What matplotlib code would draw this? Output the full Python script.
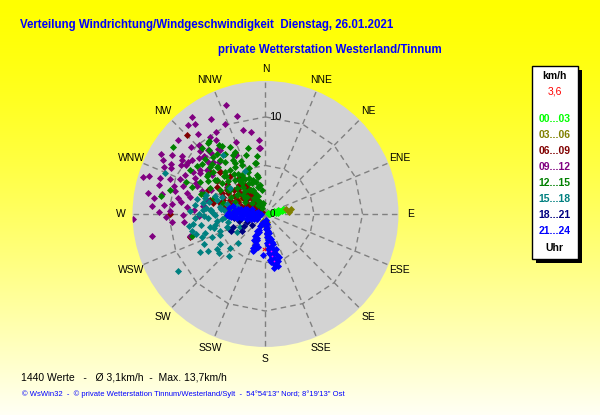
import numpy as np
import matplotlib.pyplot as plt
from matplotlib.patches import Rectangle

# Windrose-Daten (Richtung in Grad, Geschwindigkeit in km/h), je 3-Stunden-Block
dir_00_03 = [80, 78, 82, 76, 80, 84, 77, 81, 75, 79, 83, 73, 86, 70, 90, 78]
spd_00_03 = [0.3, 0.6, 0.8, 1.0, 1.2, 1.3, 1.5, 1.7, 1.9, 2.0, 1.1, 1.4, 0.5, 0.9, 0.4, 1.8]

dir_03_06 = [79, 77, 171, 176, 178, 196, 175, 315, 300, 325, 84]
spd_03_06 = [2.7, 2.2, 0.8, 2.0, 1.3, 0.8, 2.6, 2.5, 3.0, 3.5, 2.4]

dir_06_09 = [315, 333, 313, 317, 323, 325, 328, 319, 316, 317, 300, 296, 292, 283, 282,
             292, 299, 293, 277, 280, 281, 253, 270, 309, 315, 307, 330, 284, 302, 302,
             296, 307, 313, 333, 309, 312, 323, 283, 276, 290, 316, 286, 294, 288, 293,
             305, 320, 310, 298, 288, 326, 318, 300,
             304, 295, 290, 312, 318, 322, 308, 300, 286, 275, 312, 326, 304, 296, 284, 278]
spd_06_09 = [11.5, 7.0, 6.4, 5.3, 4.6, 3.6, 2.7, 1.9, 1.3, 0.8, 2.2, 3.3, 3.9, 4.8, 5.5,
             4.7, 5.7, 6.4, 3.2, 2.3, 1.3, 8.1, 9.8, 3.4, 2.5, 4.1, 1.5, 5.9, 0.45, 4.7,
             1.75, 7.2, 6.4, 6.8, 3.1, 2.4, 1.8, 3.2, 3.8, 2.2, 1.1, 1.5, 3.1, 4.6, 0.6,
             2.8, 3.0, 1.6, 1.2, 2.7, 2.2, 4.0, 3.7,
             1.8, 2.0, 3.4, 3.8, 3.0, 2.6, 5.0, 4.4, 3.9, 2.6, 0.9, 3.2, 6.0, 5.0, 2.0, 4.3]

dir_09_12 = [323, 344, 319, 336, 345, 329, 324, 316, 355, 355, 298, 298, 303, 314, 302,
             325, 287, 289, 285, 287, 281, 274, 276, 272, 268, 265, 268, 259, 269, 283,
             289, 292, 304, 313, 318, 315, 297, 283, 277, 273, 305, 275, 278, 304, 333,
             254, 316, 324, 313, 318, 302, 294, 294, 277, 268, 354, 307,
             310, 305, 320, 330, 300, 292, 296, 285, 310, 318, 326, 338, 280, 271, 264,
             306, 290, 312, 300, 280, 275, 322, 340, 350,
             295, 300, 290, 284, 306, 312, 296, 288, 302, 278]
spd_09_12 = [12.5, 10.5, 12.1, 10.2, 9.0, 9.8, 9.8, 9.7, 7.7, 6.8, 11.0, 11.9, 10.3, 9.4, 9.6,
             8.1, 13.2, 11.5, 11.4, 9.9, 10.9, 11.7, 9.7, 9.8, 10.3, 9.7, 13.7, 11.9, 8.5, 8.0,
             9.0, 7.6, 8.1, 8.7, 8.8, 7.6, 8.1, 6.2, 6.3, 7.4, 4.9, 8.1, 8.8, 9.6, 6.8,
             8.1, 9.9, 8.3, 8.6, 8.4, 7.9, 7.8, 6.1, 6.5, 6.9, 6.8, 7.6,
             9.0, 10.5, 10.8, 11.3, 8.6, 9.5, 10.8, 8.4, 11.8, 7.2, 9.2, 8.0, 9.2, 11.0, 8.4,
             6.8, 7.0, 10.3, 12.4, 12.3, 10.5, 11.8, 11.9, 8.6,
             11.5, 10.0, 10.5, 9.6, 9.4, 8.0, 9.2, 12.6, 11.4, 11.6]

dir_12_15 = [306, 321, 316, 319, 327, 320, 322, 329, 321, 327, 336, 335, 349, 349, 350,
             322, 321, 333, 309, 305, 312, 303, 305, 284, 280, 290, 296, 288, 298, 304,
             304, 313, 328, 253, 334, 321, 329, 336, 311, 295, 322, 326, 331, 329, 326,
             330, 331, 340, 347, 345, 333, 351, 336, 330, 322, 318, 314, 305, 304, 305,
             308, 312, 313, 315, 303, 307, 307, 308, 326, 287, 287, 284, 292, 349, 350,
             338, 334,
             335, 340, 342, 318, 324, 312, 316, 310, 300, 296, 300, 318, 338, 344, 326,
             317, 300, 292, 310, 332, 345, 352, 341, 322, 314, 306, 325, 328]
spd_12_15 = [11.8, 9.4, 9.4, 8.8, 8.3, 7.3, 6.8, 6.5, 5.8, 5.8, 4.8, 4.1, 5.3, 3.9, 3.0,
             4.5, 3.6, 2.8, 6.9, 6.1, 5.8, 7.2, 8.6, 10.1, 10.9, 8.1, 7.5, 6.7, 5.3, 4.4,
             3.5, 2.6, 1.7, 7.9, 7.1, 7.9, 4.7, 3.5, 5.1, 6.3, 9.5, 7.4, 6.9, 6.1, 5.0,
             4.2, 3.6, 3.7, 4.1, 2.9, 2.4, 2.5, 1.4, 2.9, 4.0, 4.7, 5.6, 5.5, 6.3, 7.2,
             8.3, 8.4, 7.6, 6.9, 4.6, 3.5, 2.7, 1.8, 0.7, 6.9, 5.5, 4.5, 3.4, 5.4, 1.2,
             4.7, 5.6,
             6.0, 5.0, 6.4, 3.2, 2.0, 4.0, 6.0, 7.5, 6.8, 4.0, 2.4, 1.2, 2.0, 3.4, 8.6,
             8.0, 9.0, 8.8, 3.0, 7.8, 7.0, 6.0, 1.0, 5.2, 7.0, 4.8, 3.0, 4.4]

dir_15_18 = [292, 261, 257, 260, 257, 252, 247, 249, 252, 237, 226, 221, 230, 237, 240,
             238, 243, 252, 223, 254, 237, 280, 274, 286, 279, 285, 283, 271, 264, 271,
             278, 282, 288, 292, 258, 267, 274, 277, 285, 274, 277, 269, 266, 266, 334,
             324, 306,
             262, 268, 255, 250, 245, 262, 270, 275, 280, 266, 258, 248, 290, 286, 276,
             272, 244, 234, 262, 282]
spd_15_18 = [11.2, 8.0, 7.8, 6.7, 5.9, 6.5, 6.0, 5.0, 4.2, 5.6, 5.1, 5.8, 6.3, 7.0, 7.8,
             3.5, 2.9, 2.0, 4.1, 7.4, 10.8, 6.5, 5.7, 5.2, 4.7, 4.1, 3.4, 5.4, 4.5, 3.6,
             2.8, 7.2, 6.4, 4.8, 5.3, 7.3, 6.4, 7.3, 6.4, 5.6, 4.6, 5.2, 4.2, 5.9, 4.9,
             7.5, 4.5,
             5.0, 6.3, 5.5, 7.0, 5.2, 7.5, 6.8, 4.3, 3.8, 3.3, 3.9, 4.0, 5.5, 3.0, 6.2,
             7.8, 7.0, 6.2, 2.8, 5.9]

dir_18_21 = [248, 248, 255, 262, 240, 230, 265, 275, 233, 244]
spd_18_21 = [2.1, 3.6, 2.8, 3.3, 2.5, 1.8, 1.8, 3.0, 3.0, 3.9]

dir_21_24 = [268, 270, 272, 269, 274, 271, 276, 270, 278, 273, 280, 268, 285, 275, 265,
             263, 260, 255, 250, 245, 240, 266, 262, 258, 277, 282, 286, 290, 284, 279,
             267, 264, 271, 273, 268, 262, 257, 252, 247, 280, 283, 276, 270, 260, 272,
             178, 176, 175, 174, 173, 175, 172, 174, 171, 173, 170, 172, 169, 171, 168,
             170, 169, 171, 176, 177, 175, 174, 166, 167, 178, 180, 182, 176, 173, 165,
             172, 170, 168, 167, 165, 166, 173, 175, 177, 164, 168, 163, 170,
             202, 203, 201, 202, 200, 201, 199, 200, 197, 206, 205, 198, 183, 193,
             204, 199, 203, 197, 196, 199]
spd_21_24 = [4.0, 3.7, 3.4, 3.1, 2.9, 2.6, 2.3, 2.0, 1.8, 1.5, 1.3, 1.0, 0.8, 0.5, 3.6,
             3.0, 2.5, 2.0, 1.6, 1.3, 1.0, 2.2, 1.7, 1.2, 3.2, 2.6, 2.0, 1.5, 3.5, 3.8,
             3.8, 3.3, 3.0, 2.3, 1.4, 2.6, 1.8, 1.3, 1.0, 2.9, 2.2, 1.0, 0.8, 0.6, 3.9,
             0.6, 0.9, 1.2, 1.5, 1.8, 2.1, 2.4, 2.7, 3.0, 3.3, 3.6, 3.9, 4.2, 4.5, 4.8,
             5.1, 5.4, 5.6, 2.0, 3.0, 4.0, 4.8, 3.2, 2.6, 1.6, 1.0, 0.7, 3.6, 5.0, 4.4,
             1.0, 2.0, 3.0, 4.0, 5.0, 5.5, 4.2, 3.2, 2.4, 3.8, 5.2, 4.6, 4.6,
             1.0, 1.4, 1.8, 2.2, 2.6, 3.0, 3.4, 3.7, 3.9, 1.9, 2.5, 2.8, 4.2, 3.5,
             1.2, 2.0, 2.9, 3.2, 3.6, 4.0]

# letzte Werte (kleine Punkte) und aktueller Wert
last_dir = [174, 172, 171, 170]
last_spd = [3.1, 3.9, 4.4, 4.9]
akt_dir = 183
akt_spd = 3.6

labels = ['00...03', '03...06', '06...09', '09...12', '12...15', '15...18', '18...21', '21...24']
colors = ['#00ff00', '#808000', '#800000', '#800080', '#008000', '#008080', '#000080', '#0000ff']
dirs = [dir_00_03, dir_03_06, dir_06_09, dir_09_12, dir_12_15, dir_15_18, dir_18_21, dir_21_24]
spds = [spd_00_03, spd_03_06, spd_06_09, spd_09_12, spd_12_15, spd_15_18, spd_18_21, spd_21_24]

richtungen = ['N', 'NNE', 'NE', 'ENE', 'E', 'ESE', 'SE', 'SSE',
              'S', 'SSW', 'SW', 'WSW', 'W', 'WNW', 'NW', 'NNW']
rmax = 13.7

plt.rcParams['font.family'] = ['Liberation Sans', 'DejaVu Sans']

fig = plt.figure(figsize=(6, 4.15), dpi=100)

# Hintergrund mit Farbverlauf gelb -> hellgelb
bg = fig.add_axes([0, 0, 1, 1])
yy = np.linspace(0, 1, 415)[:, None]
blue_ch = 0.96 * yy ** 1.4
grad = np.dstack([np.ones((415, 1)), np.ones((415, 1)), blue_ch])
bg.imshow(grad, extent=[0, 600, 415, 0], aspect='auto')
bg.set_xlim(0, 600)
bg.set_ylim(415, 0)
bg.axis('off')

ax = fig.add_axes([0.2208, 0.1639, 0.4433, 0.641], projection='polar')
ax.set_theta_zero_location('N')
ax.set_theta_direction(-1)
ax.set_ylim(0, rmax)
ax.grid(False)
ax.set_xticks([])
ax.set_yticks([])
ax.spines['polar'].set_visible(False)
ax.set_facecolor('#d3d3d3')

winkel = np.radians(np.arange(0, 360, 22.5))
for w in winkel:
    ax.plot([w, w], [0, rmax], color='#808080', lw=1, ls=(0, (4, 3)), zorder=1)

# Ringe als 16-Eck (gerade Sehnen zwischen den Speichen)
for r in [5, 10]:
    ecken = np.radians(np.arange(0, 361, 22.5))
    ex, ey = r * np.sin(ecken), r * np.cos(ecken)
    t = np.linspace(0, 1, 12)[:-1]
    px = np.concatenate([ex[i] + (ex[i + 1] - ex[i]) * t for i in range(16)] + [ex[:1]])
    py = np.concatenate([ey[i] + (ey[i + 1] - ey[i]) * t for i in range(16)] + [ey[:1]])
    ax.plot(np.arctan2(px, py), np.hypot(px, py), color='#808080', lw=1,
            ls=(0, (4, 3)), zorder=1)

for w, name in zip(winkel, richtungen):
    ax.text(w, 14.95, name, ha='center', va='center', fontsize=7.5, clip_on=False)
ax.text(np.radians(6), 10.05, '10', ha='center', va='center', fontsize=8, zorder=2)
ax.annotate('0', xy=(0, 0), xytext=(5, 0), textcoords='offset points',
            ha='center', va='center', fontsize=7, zorder=5)

for d, s, c in zip(dirs, spds, colors):
    ax.scatter(np.radians(d), s, s=13, marker='D', color=c, lw=0, zorder=3)
ax.scatter(np.radians(last_dir), last_spd, s=1.5, marker='o', color='#ff00ff', lw=0, zorder=4)
ax.scatter(np.radians(akt_dir), akt_spd, s=6, marker='x', color='red', lw=0.7, zorder=4)

# Titel
bg.text(20, 25, 'Verteilung Windrichtung/Windgeschwindigkeit  Dienstag, 26.01.2021',
        color='#0000ff', fontsize=8.3, fontweight='bold', va='center')
bg.text(218, 50, 'private Wetterstation Westerland/Tinnum',
        color='#0000ff', fontsize=8.3, fontweight='bold', va='center')

# Legende
bg.add_patch(Rectangle((535.7, 70), 46, 193.3, facecolor='black', edgecolor='none'))
bg.add_patch(Rectangle((531.7, 66), 46, 193.3, facecolor='white', edgecolor='black', lw=1))
bg.text(554.5, 76, 'km/h', ha='center', va='center', fontsize=7.5, fontweight='bold')
bg.text(554.5, 92, '3,6', ha='center', va='center', fontsize=7.5, color='red')
for i, (lab, c) in enumerate(zip(labels, colors)):
    bg.text(554.5, 119.3 + i * 16, lab, ha='center', va='center', fontsize=7.5,
            fontweight='bold', color=c)
bg.text(554.5, 247.7, 'Uhr', ha='center', va='center', fontsize=7.5, fontweight='bold')

# Fusszeilen
bg.text(21, 377, '1440 Werte   -   \u00d8 3,1km/h  -  Max. 13,7km/h',
        fontsize=7.5, va='center')
bg.text(22, 394, "\u00a9 WsWin32  -  \u00a9 private Wetterstation Tinnum/Westerland/Sylt  -  "
        "54\u00b054'13'' Nord; 8\u00b019'13'' Ost", fontsize=5.5, va='center', color='#0000ff')

fig.savefig('out.png', dpi=100)
